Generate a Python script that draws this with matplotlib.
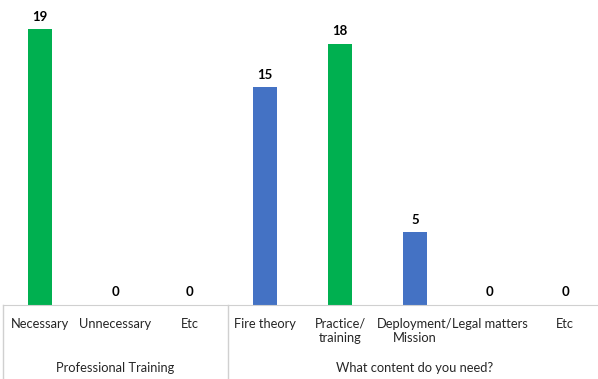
import matplotlib.pyplot as plt
import matplotlib.transforms as mtransforms

categories = ["Necessary", "Unnecessary", "Etc", "Fire theory", "Practice/\ntraining",
              "Deployment/\nMission", "Legal matters", "Etc"]
values = [19, 0, 0, 15, 18, 5, 0, 0]
bar_colors = ["#00B050", "#00B050", "#00B050", "#4472C4", "#00B050", "#4472C4", "#4472C4", "#4472C4"]
groups = ["Professional Training", "What content do you need?"]
group_sizes = [3, 5]

plt.rcParams['font.family'] = ['Lato', 'DejaVu Sans']

fig = plt.figure(figsize=(5.98, 3.79), dpi=100)
W, H = 598, 379
ax_left, ax_right, ax_base = 2.5, 602.5, 305
ax = fig.add_axes([ax_left / W, (H - ax_base) / H, (ax_right - ax_left) / W, ax_base / H])

x = list(range(len(categories)))
bars = ax.bar(x, values, width=0.32, color=bar_colors)
for xi, v in zip(x, values):
  ax.text(xi, v + 0.45, str(v), ha="center", va="bottom", fontsize=9.5, fontweight="bold", color="#000000")

ax.set_xlim(-0.5, len(categories) - 0.5)
ax.set_ylim(0, 21)
ax.set_yticks([])
ax.set_xticks(x)
ax.set_xticklabels(categories, fontsize=9.3, color="#262626", linespacing=1.3)
ax.tick_params(axis="x", length=0, pad=9)
for s in ["top", "left", "right"]:
  ax.spines[s].set_visible(False)
ax.spines["bottom"].set_color("#D0D0D0")

# group separators and labels
trans = mtransforms.blended_transform_factory(ax.transData, ax.transAxes)
y_bottom = -(H - ax_base) / ax_base
start = -0.5
bounds = [start]
for g, n in zip(groups, group_sizes):
  end = start + n
  ax.text((start + end) / 2, -(368 - ax_base) / ax_base, g, transform=trans,
          ha="center", va="center", fontsize=9.3, color="#262626")
  bounds.append(end)
  start = end
for b in bounds:
  ax.plot([b, b], [0, y_bottom], transform=trans, color="#D0D0D0", lw=1, clip_on=False)

fig.savefig("out.png", dpi=100)
